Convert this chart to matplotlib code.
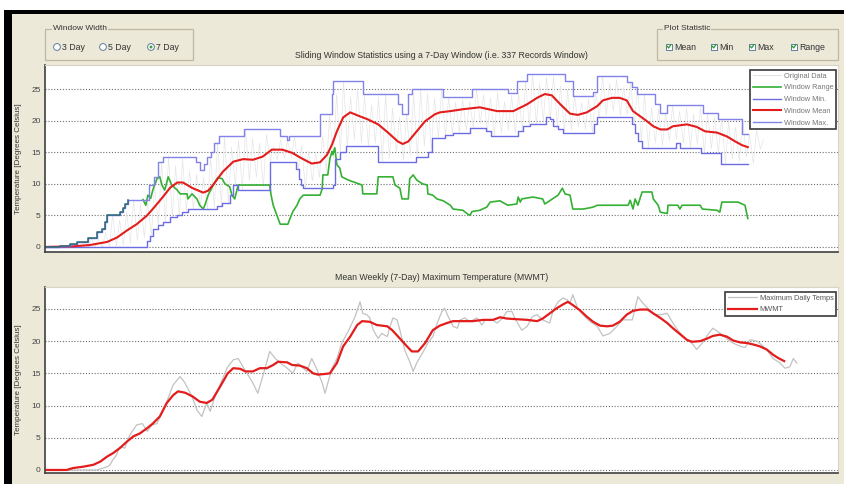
import matplotlib
matplotlib.use("Agg")
import matplotlib.pyplot as plt
from matplotlib.patches import Rectangle, Circle

plt.rcParams['font.family'] = ['Liberation Sans', 'DejaVu Sans']

# values, x is days from start of record

# original (half hourly) data, summarised as daily lows / highs
daily_low = [0, 0, 0, 0, 0, 0, 0, 0, 0, 0,
             0.1, 0.3, 0.5, 1.0, 1.5, 1.8, 3.4, 4.0, 4.7, 5.0,
             5.6, 6.0, 6.5, 6.0, 6.2, 6.5, 6.9, 9.8, 9.0, 10.5,
             11.0, 9.5, 13.5, 13.8, 14.0, 14.2, 12.4, 9.3, 10.5, 11.0,
             12.0, 14.0, 15.0, 15.9, 17.0, 16.5, 16.0, 16.5, 13.5, 14.0,
             15.0, 13.8, 14.5, 14.3, 16.0, 15.1, 17.3, 17.5, 18.0, 18.1,
             18.5, 18.9, 19.5, 18.3, 17.5, 18.0, 18.5, 18.0, 18.3, 19.1,
             19.4, 20.0, 20.5, 19.1, 18.1, 18.5, 19.0, 18.6, 18.1, 20.5,
             21.0, 21.5, 20.8, 21.0, 19.4, 16.7, 15.7, 16.5, 16.0, 16.8,
             17.0, 16.5, 15.7, 16.2, 14.8, 15.5, 15.0, 13.2, 14.0, 13.5,
             14.2, 13.2, 15.5]
daily_high = [0, 0, 0.2, 0.4, 0.5, 0.8, 1.4, 1.2, 2.3, 5.0,
              4.2, 5.6, 7.5, 6.8, 7.2, 9.8, 13.5, 14.3, 12.8, 13.9,
              12.0, 11.5, 11.0, 14.3, 16.5, 17.5, 15.8, 16.9, 18.6, 17.2,
              16.5, 17.8, 15.9, 17.0, 16.8, 17.5, 16.0, 15.2, 14.8, 17.5,
              21.0, 24.2, 26.2, 23.8, 25.1, 24.0, 22.5, 23.7, 24.2, 22.0,
              20.5, 21.0, 24.2, 25.0, 24.3, 23.5, 24.8, 23.7, 22.9, 23.4,
              23.0, 25.0, 24.1, 23.6, 24.5, 23.0, 24.0, 24.4, 26.2, 27.4,
              25.8, 26.9, 27.0, 25.5, 24.8, 23.9, 22.8, 23.5, 24.5, 27.1,
              25.9, 26.5, 25.2, 26.1, 25.3, 24.2, 22.0, 21.8, 21.2, 22.4,
              21.5, 22.0, 21.0, 22.2, 21.2, 20.5, 20.3, 19.8, 19.0, 20.3,
              17.8, 18.5, 17.0]

max_day = [0, 2.1, 3.6, 4.5, 6.2, 7.4, 8.1, 8.6, 8.8, 10.7,
           11.1, 11.5, 11.9, 14.9, 15.5, 16.2, 16.9, 21.6, 22.1, 22.7,
           23.2, 23.7, 24.1, 24.8, 28.4, 33.6, 34.5, 34.9, 39.3, 41.0,
           41.2, 45.5, 50.5, 51.0, 51.9, 52.4, 56.9, 61.0, 66.1, 67.4,
           68.9, 74.3, 75.4, 78.3, 78.9, 83.1, 83.9, 84.6, 87.1, 87.9,
           88.9, 94.0, 96.1, 99.6, 100.4]
max_val = [0.0, 0.2, 0.5, 0.85, 1.4, 2.3, 2.9, 4.0, 5.0, 5.6,
           6.2, 6.8, 7.5, 9.8, 11.1, 13.5, 14.3, 13.5, 12.2, 13.2,
           14.3, 15.1, 16.5, 17.5, 18.6, 17.5, 17.0, 17.5, 21.0, 24.2,
           26.2, 24.2, 22.6, 21.0, 24.2, 25.0, 23.7, 25.0, 24.4, 26.2,
           27.4, 26.2, 23.9, 24.5, 27.1, 26.1, 25.3, 24.2, 22.6, 21.2,
           22.4, 21.2, 20.3, 17.8, 17.8]

min_day = [0, 14.6, 15.0, 15.4, 16.1, 16.9, 17.9, 18.9, 19.6, 20.4,
           24.6, 25.3, 26.4, 26.9, 27.6, 32.1, 35.9, 36.3, 36.6, 36.9,
           41.1, 41.4, 42.1, 43.0, 47.6, 53.0, 54.7, 55.3, 57.1, 58.3,
           60.7, 63.0, 63.7, 67.6, 68.3, 69.3, 71.6, 72.1, 72.6, 73.3,
           74.0, 78.4, 78.9, 83.9, 84.3, 84.7, 85.3, 90.1, 90.7, 93.7,
           96.6, 100.4]
min_val = [0.0, 1.0, 1.8, 2.8, 3.4, 4.0, 4.7, 5.0, 5.6, 6.0,
           6.5, 6.9, 8.2, 9.8, 9.0, 13.5, 12.4, 10.8, 9.8, 9.3,
           9.8, 14.0, 15.1, 15.9, 13.5, 14.3, 15.1, 17.3, 17.7, 18.1,
           18.9, 18.3, 17.5, 18.3, 19.1, 19.4, 20.5, 20.2, 19.1, 18.6,
           18.1, 19.4, 20.5, 19.4, 18.1, 16.7, 15.7, 16.5, 15.7, 14.8,
           13.2, 13.2]

range_day = [14.0, 14.4, 14.7, 15.1, 15.4, 16.0, 16.4, 16.7, 17.1, 17.6,
             18.1, 18.9, 19.3, 20.3, 20.4, 21.0, 21.7, 22.1, 22.6, 22.9,
             23.3, 23.9, 24.3, 24.7, 25.3, 25.7, 26.4, 26.7, 27.1, 27.6,
             32.1, 32.3, 32.6, 33.1, 33.6, 34.7, 35.0, 35.4, 36.0, 36.4,
             36.9, 39.3, 39.6, 39.7, 40.4, 40.7, 41.0, 41.1, 41.4, 41.7,
             42.1, 42.4, 43.3, 45.3, 45.4, 47.4, 47.6, 49.7, 50.0, 50.7,
             51.0, 51.9, 52.1, 52.6, 53.1, 53.9, 54.6, 54.7, 55.4, 56.0,
             56.9, 57.9, 58.3, 59.7, 60.4, 60.7, 61.0, 62.1, 63.1, 63.6,
             65.0, 66.1, 67.4, 67.6, 67.9, 68.1, 69.7, 71.1, 71.4, 73.3,
             73.9, 74.3, 75.0, 75.4, 76.9, 78.3, 78.9, 83.3, 83.6, 84.0,
             84.3, 84.7, 85.3, 86.7, 86.9, 87.6, 87.9, 88.9, 89.0, 90.4,
             90.7, 91.0, 93.6, 93.9, 96.0, 96.4, 96.7, 99.0, 99.6, 100.0,
             100.3, 100.4]
range_val = [7.5, 6.6, 8.2, 7.7, 9.0, 10.8, 11.1, 9.8, 9.0, 11.1,
             9.8, 9.0, 8.4, 8.4, 7.6, 8.4, 7.6, 6.6, 6.0, 6.8,
             8.2, 9.5, 10.3, 11.0, 10.8, 10.0, 9.5, 8.2, 7.6, 9.8,
             9.8, 8.2, 6.6, 5.1, 3.6, 3.6, 4.5, 5.6, 6.6, 7.6,
             8.2, 8.2, 9.2, 11.4, 11.4, 14.0, 15.1, 14.6, 15.7, 13.0,
             12.5, 11.1, 10.6, 9.8, 8.4, 8.4, 11.1, 11.1, 9.8, 9.3,
             7.6, 7.6, 10.8, 11.4, 10.6, 10.0, 9.8, 8.4, 8.2, 7.6,
             7.3, 6.6, 6.0, 5.8, 5.2, 5.0, 5.6, 5.8, 6.3, 7.1,
             7.3, 6.6, 6.8, 7.9, 7.1, 7.6, 7.9, 7.6, 6.8, 8.2,
             9.3, 8.4, 8.2, 6.0, 6.0, 6.3, 6.6, 6.6, 7.4, 6.0,
             7.6, 6.6, 8.7, 8.7, 7.6, 6.6, 5.5, 5.3, 6.6, 6.6,
             6.0, 6.6, 6.6, 6.0, 5.8, 5.5, 7.1, 7.1, 6.8, 6.6,
             5.0, 4.5]

mean_day = [0, 4.0, 6.4, 8.9, 10.3, 11.7, 13.1, 14.6, 15.7, 16.9,
            17.9, 18.9, 19.7, 21.1, 22.6, 23.3, 24.0, 25.4, 26.9, 28.3,
            29.7, 31.1, 32.4, 33.9, 35.3, 36.7, 38.1, 39.3, 40.3, 41.0,
            41.7, 42.6, 43.6, 44.7, 46.1, 47.6, 49.0, 50.4, 51.1, 51.9,
            53.1, 54.3, 55.7, 56.4, 57.9, 59.7, 62.1, 64.6, 66.9, 68.9,
            70.3, 71.4, 72.4, 73.6, 75.0, 76.1, 77.4, 78.9, 79.7, 81.0,
            82.1, 83.1, 84.0, 85.0, 86.0, 86.9, 87.9, 88.9, 89.7, 91.7,
            93.1, 94.3, 96.0, 97.4, 98.6, 99.6, 100.4]
mean_val = [0.0, 0.1, 0.3, 0.8, 1.5, 2.6, 3.6, 5.0, 6.4, 8.0,
            9.4, 10.2, 10.2, 9.3, 8.6, 8.9, 9.8, 11.9, 13.5, 13.9,
            13.8, 14.3, 15.4, 15.4, 14.9, 14.0, 13.2, 13.4, 14.6, 16.2,
            18.3, 20.5, 21.3, 20.8, 20.2, 19.4, 18.1, 16.7, 16.3, 16.7,
            18.3, 19.9, 21.0, 21.3, 21.5, 21.8, 22.1, 21.5, 21.5, 22.6,
            23.6, 24.2, 24.0, 22.6, 21.1, 20.9, 21.3, 22.3, 23.2, 23.6,
            23.6, 23.2, 21.5, 20.7, 19.9, 19.1, 18.6, 18.6, 19.1, 19.4,
            19.0, 18.3, 18.1, 17.5, 16.7, 16.1, 15.8]

# bottom panel
tmax_day = [0, 7.4, 8.3, 8.9, 9.3, 9.7, 10.1, 10.7, 11.4, 12.1,
            13.1, 13.9, 14.6, 15.3, 16.0, 16.7, 17.4, 18.3, 19.3, 20.0,
            21.0, 21.7, 22.4, 23.1, 23.6, 24.3, 25.3, 26.1, 26.9, 27.6,
            28.3, 29.7, 30.4, 31.1, 32.1, 32.9, 33.6, 34.6, 35.4, 36.1,
            37.4, 38.1, 38.9, 39.6, 40.0, 40.4, 41.0, 41.7, 42.4, 43.3,
            44.3, 45.0, 45.4, 46.0, 46.4, 46.9, 47.6, 48.1, 48.9, 49.3,
            49.7, 50.3, 50.7, 51.4, 52.1, 52.6, 53.1, 53.9, 54.7, 55.4,
            56.1, 56.7, 57.1, 57.6, 58.3, 58.9, 59.3, 60.0, 60.7, 61.7,
            62.4, 62.9, 63.9, 64.6, 65.4, 66.0, 66.7, 67.1, 68.1, 68.9,
            69.6, 70.3, 71.1, 72.1, 72.6, 73.3, 74.0, 74.6, 75.0, 75.4,
            76.1, 77.1, 77.9, 78.9, 79.7, 80.7, 81.7, 82.4, 83.9, 84.7,
            85.4, 86.1, 87.1, 87.9, 88.9, 89.6, 90.4, 91.4, 92.4, 93.1,
            93.9, 94.7, 95.4, 96.1, 96.9, 97.6, 98.3, 99.3, 100.0, 100.7,
            101.7, 102.6, 103.3, 104.0, 105.0, 105.7, 106.4, 106.9, 107.4]
tmax_val = [0, 0, 0.3, 0.5, 0.8, 1.6, 2.1, 3.6, 3.4, 5.4,
            7.0, 7.2, 6.0, 7.0, 7.2, 8.8, 10.6, 13.2, 14.5, 13.5,
            11.4, 9.3, 8.3, 10.4, 9.1, 11.4, 14.0, 16.0, 17.1, 17.3,
            16.0, 13.5, 11.9, 14.5, 18.4, 17.3, 16.6, 15.8, 15.0, 16.6,
            15.3, 17.3, 15.5, 13.5, 11.9, 13.5, 15.8, 17.3, 19.7, 21.5,
            23.8, 26.1, 24.3, 24.1, 23.6, 21.7, 20.4, 21.2, 20.7, 22.3,
            23.6, 23.3, 21.7, 18.6, 16.8, 15.3, 16.6, 18.1, 19.7, 20.7,
            23.0, 24.6, 25.1, 23.8, 22.3, 22.0, 23.3, 23.6, 23.0, 23.6,
            22.5, 23.3, 23.3, 22.8, 23.6, 24.6, 24.6, 23.6, 21.7, 22.3,
            23.8, 24.1, 23.3, 22.8, 24.8, 26.1, 26.7, 26.4, 25.9, 27.2,
            25.1, 23.8, 23.0, 22.3, 20.8, 21.2, 22.3, 23.3, 23.3, 26.9,
            25.9, 25.1, 24.1, 24.1, 24.3, 23.0, 21.7, 20.4, 19.7, 18.7,
            19.7, 21.0, 22.0, 21.5, 20.8, 20.2, 19.7, 19.2, 19.0, 20.2,
            20.0, 19.2, 18.4, 17.3, 16.6, 15.8, 16.0, 17.3, 16.6]

mwmt_day = [0, 3.1, 4.0, 5.4, 6.9, 7.9, 8.9, 9.7, 10.7, 11.7,
            12.6, 13.6, 14.6, 15.4, 16.4, 17.4, 18.3, 19.0, 20.0, 21.1,
            22.1, 23.1, 23.9, 25.0, 26.1, 26.9, 27.9, 28.6, 29.7, 30.7,
            31.7, 32.6, 33.3, 34.6, 35.3, 36.4, 37.4, 38.3, 39.0, 40.0,
            40.7, 41.7, 42.6, 43.6, 44.6, 45.3, 46.4, 47.4, 48.9, 49.6,
            50.7, 51.7, 52.4, 53.3, 54.3, 55.4, 56.4, 57.4, 58.3, 61.1,
            62.6, 64.0, 65.0, 66.0, 67.4, 68.9, 70.3, 71.1, 72.1, 73.1,
            74.0, 74.7, 75.4, 76.4, 77.4, 78.3, 79.3, 80.3, 81.1, 82.1,
            83.1, 84.0, 85.0, 86.1, 86.9, 87.9, 88.9, 89.7, 90.7, 91.7,
            92.4, 93.6, 94.6, 95.4, 96.4, 97.4, 98.3, 99.3, 100.3, 101.1,
            102.1, 103.1, 104.0, 104.7, 105.6]
mwmt_val = [0, 0, 0.3, 0.5, 0.8, 1.3, 2.1, 2.6, 3.4, 4.4,
            5.2, 5.7, 6.5, 7.2, 8.3, 10.4, 11.6, 12.2, 12.0, 11.4,
            10.6, 10.4, 10.9, 12.9, 15.0, 15.8, 15.7, 15.3, 15.3, 15.8,
            15.8, 16.3, 16.8, 16.7, 16.3, 16.2, 15.8, 15.0, 14.8, 14.9,
            15.0, 16.6, 19.2, 20.7, 22.5, 23.1, 23.0, 22.5, 22.3, 21.7,
            20.4, 19.2, 18.4, 18.4, 19.7, 21.7, 22.4, 22.8, 23.1, 23.1,
            23.3, 23.3, 23.7, 23.5, 23.4, 23.3, 23.1, 23.5, 24.3, 25.1,
            25.7, 26.1, 25.6, 24.8, 23.8, 23.0, 22.4, 22.3, 22.4, 23.0,
            24.1, 24.7, 24.9, 24.9, 24.3, 23.6, 22.8, 22.0, 21.1, 20.2,
            19.9, 20.0, 20.4, 20.8, 21.0, 20.7, 20.1, 19.8, 19.7, 19.5,
            19.2, 18.7, 17.9, 17.4, 16.9]

yticks = [0, 5, 10, 15, 20, 25]
window_opts = ['3 Day', '5 Day', '7 Day']
stat_opts = ['Mean', 'Min', 'Max', 'Range']
top_title = 'Sliding Window Statistics using a 7-Day Window (i.e. 337 Records Window)'
bottom_title = 'Mean Weekly (7-Day) Maximum Temperature (MWMT)'
ylab = 'Temperature [Degrees Celsius]'

BEIGE = '#ece9d8'
W, H = 844, 484

fig = plt.figure(figsize=(W / 100, H / 100), dpi=100)
fig.patch.set_facecolor('white')

# the window chrome, drawn in pixel coordinates
ui = fig.add_axes([0, 0, 1, 1])
ui.set_xlim(0, W)
ui.set_ylim(H, 0)
ui.axis('off')
ui.add_patch(Rectangle((12, 13), W - 12, H - 13, fc=BEIGE, ec='none'))
ui.add_patch(Rectangle((4, 10), W - 4, 3.5, fc='black', ec='none'))
ui.add_patch(Rectangle((4, 10), 8, H - 10, fc='black', ec='none'))

# group boxes
ui.add_patch(Rectangle((45, 29), 148, 31, fill=False, ec='#bcb8a4', lw=0.9))
ui.text(53, 29, 'Window Width', fontsize=6, color='#333333', va='center',
        bbox=dict(fc=BEIGE, ec='none', pad=0.6))
for lbl, cx in zip(window_opts, [57, 103, 151]):
    ui.add_patch(Circle((cx, 47), 3.4, fc='white', ec='#5f7d9b', lw=0.7))
    ui.text(cx + 4.5, 47.3, lbl, fontsize=6.3, color='#333333', va='center')
ui.add_patch(Circle((151, 47), 1.5, fc='#3aa53a', ec='none'))

ui.add_patch(Rectangle((657, 29), 181, 31, fill=False, ec='#bcb8a4', lw=0.9))
ui.text(664, 29, 'Plot Statistic', fontsize=6, color='#333333', va='center',
        bbox=dict(fc=BEIGE, ec='none', pad=0.6))
for lbl, bx in zip(stat_opts, [666, 711, 749, 791]):
    ui.add_patch(Rectangle((bx, 43.5), 6, 6, fc='white', ec='#5f7d9b', lw=0.7))
    ui.plot([bx + 1.3, bx + 2.6, bx + 4.8], [46.3, 48.0, 44.8], color='#2a9a2a', lw=0.9)
    ui.text(bx + 8, 47, lbl, fontsize=6.3, color='#333333', va='center')

ui.text(441, 55, top_title, fontsize=6.3, color='#333333', ha='center', va='center')
ui.text(442, 278, bottom_title, fontsize=6.3, color='#333333', ha='center', va='center')


def style(ax, ylim):
    ax.set_xlim(0, 793 / 7)
    ax.set_ylim(*ylim)
    ax.set_yticks(yticks)
    ax.set_xticks([])
    ax.grid(axis='y', color='#6e6e6e', linestyle=(0, (1, 1.6)), lw=0.8)
    ax.tick_params(axis='y', length=0, labelsize=6, labelcolor='#444444', pad=3)
    for s in ['top', 'right']:
        ax.spines[s].set_color('#d8d4c8')
        ax.spines[s].set_linewidth(0.8)
    for s in ['left', 'bottom']:
        ax.spines[s].set_color('#404040')
        ax.spines[s].set_linewidth(1.2)
    ax.set_ylabel(ylab, fontsize=5.8, color='#333333')
    ax.yaxis.set_label_coords(-0.029, 0.5)


ax1 = fig.add_axes([45 / W, 1 - 252 / H, 793 / W, 187 / H])
ax2 = fig.add_axes([45 / W, 1 - 473 / H, 793 / W, 186 / H])
style(ax1, (-0.8, 28.8))
style(ax2, (-0.47, 28.4))

# original data: a low and a high each day
orig_x, orig_y = [], []
for d, (lo, hi) in enumerate(zip(daily_low, daily_high)):
    orig_x += [d + 0.2, d + 0.65]
    orig_y += [lo, hi]

ax1.plot(orig_x, orig_y, color='#e6e6e6', lw=0.5, label='Original Data')
ax1.plot(range_day, range_val, color='#35b035', lw=1.2, label='Window Range')
ax1.step(min_day, min_val, where='post', color='#6b6be4', lw=1.0, label='Window Min.')
ax1.plot(mean_day, mean_val, color='#e31c1c', lw=1.5, label='Window Mean')
ax1.step(max_day, max_val, where='post', color='#8282e8', lw=1.0, label='Window Max.')
# while the window min is zero the range sits on top of the max line
n0 = sum(1 for d in max_day if d <= min_day[1])
ax1.step(max_day[:n0], max_val[:n0], where='post', color='#2b6878', lw=1.1)

leg1 = ax1.legend(loc='upper right', bbox_to_anchor=(0.9975, 0.973), fontsize=5.3,
                  fancybox=False, edgecolor='#3a3a3a', framealpha=1, handlelength=3.9,
                  handletextpad=0.35, labelspacing=0.62, borderpad=0.35,
                  borderaxespad=0, labelcolor='#777777')
leg1.get_frame().set_linewidth(1.2)
leg1.get_lines()[0].set_color('#d4d4d4')

ax2.plot(tmax_day, tmax_val, color='#c2c2c2', lw=0.9, label='Maximum Daily Temps')
ax2.plot(mwmt_day, mwmt_val, color='#e31c1c', lw=1.6, label='MWMT')
leg2 = ax2.legend(loc='upper right', bbox_to_anchor=(0.9975, 0.973), fontsize=5.3,
                  fancybox=False, edgecolor='#3a3a3a', framealpha=1, handlelength=4.0,
                  handletextpad=0.35, labelspacing=0.62, borderpad=0.35,
                  borderaxespad=0, labelcolor='#555555')
leg2.get_frame().set_linewidth(1.2)

fig.savefig('out.png', dpi=100)
